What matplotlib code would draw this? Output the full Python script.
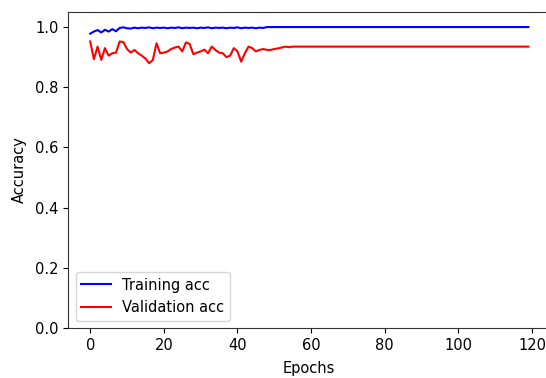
import matplotlib
matplotlib.use("Agg")
import matplotlib.pyplot as plt
import numpy as np

plt.rcParams["font.size"] = 10.5

epochs = list(range(120))

train_acc = [0.978, 0.985, 0.990, 0.982, 0.991, 0.985, 0.993, 0.986, 0.997, 0.999,
             0.996, 0.995, 0.998, 0.996, 0.998, 0.997, 0.999, 0.996, 0.998, 0.997,
             0.998, 0.996, 0.998, 0.997, 0.999, 0.996, 0.998, 0.997, 0.998, 0.996,
             0.998, 0.997, 0.999, 0.996, 0.998, 0.997, 0.998, 0.996, 0.998, 0.997,
             0.999, 0.996, 0.998, 0.997, 0.998, 0.996, 0.998, 0.997] + [1.0] * 72

val_acc = [0.952, 0.893, 0.935, 0.891, 0.930, 0.905, 0.913, 0.915, 0.952, 0.950,
           0.927, 0.915, 0.924, 0.913, 0.905, 0.895, 0.880, 0.890, 0.946, 0.913,
           0.915, 0.919, 0.927, 0.932, 0.935, 0.919, 0.949, 0.944, 0.910, 0.915,
           0.919, 0.925, 0.913, 0.935, 0.924, 0.915, 0.913, 0.900, 0.905, 0.930,
           0.919, 0.885, 0.913, 0.935, 0.930, 0.919, 0.924, 0.927, 0.924, 0.924,
           0.927, 0.929, 0.932, 0.935, 0.933, 0.935] + [0.935] * 64

fig = plt.figure(figsize=(5.46, 3.78), dpi=100)
ax = fig.add_axes([68.3 / 546, 50 / 378, 482 / 546, 316 / 378])
ax.plot(epochs, train_acc, color="blue", lw=1.5, label="Training acc")
ax.plot(epochs, val_acc, color="red", lw=1.5, label="Validation acc")
ax.set_xlim(-5.95, 124.95)
ax.set_ylim(0, 1.05)
ax.set_xticks([0, 20, 40, 60, 80, 100, 120])
ax.set_yticks([0.0, 0.2, 0.4, 0.6, 0.8, 1.0])
for s in ax.spines.values():
    s.set_color("#333333")
ax.set_xlabel("Epochs", labelpad=6)
ax.set_ylabel("Accuracy", labelpad=6)
ax.legend(loc="lower left")
fig.savefig("out.png", dpi=100)
